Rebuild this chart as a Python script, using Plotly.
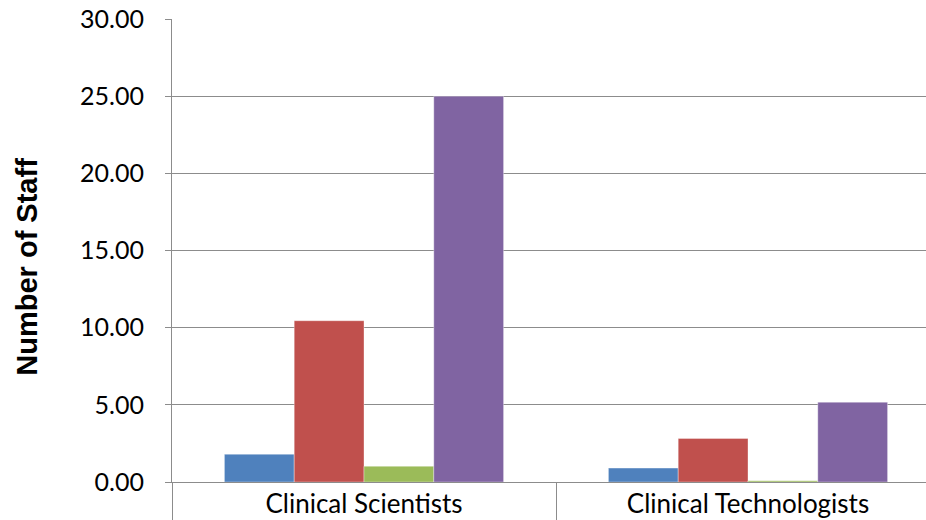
import plotly.graph_objects as go

categories = ["Clinical Scientists", "Clinical Technologists"]
series_names = ["Series 1", "Series 2", "Series 3", "Series 4"]
series_values = [
    [1.8, 0.9],
    [10.45, 2.82],
    [1.02, 0.08],
    [25.0, 5.17],
]
series_colors = ["#4F81BD", "#C0504D", "#9BBB59", "#8064A2"]
y_ticks = [0, 5, 10, 15, 20, 25, 30]
y_title = "Number of Staff"

fig = go.Figure()
for name, vals, color in zip(series_names, series_values, series_colors):
    fig.add_trace(go.Bar(
        x=categories, y=vals, name=name,
        marker=dict(color=color, line=dict(color="rgba(255,255,255,0.35)", width=1)),
    ))

axis_grey = "#8C8C8C"
fig.update_layout(
    width=926, height=520,
    margin=dict(l=172, r=0, t=19, b=38),
    paper_bgcolor="white", plot_bgcolor="white",
    barmode="group", bargap=0.273, bargroupgap=0,
    showlegend=False,
    font=dict(family="Lato", color="#000000"),
    xaxis=dict(
        type="category", automargin=False,
        range=[-0.5, 1.5 - 14 / 384],
        tickson="boundaries", ticks="outside", ticklen=40, tickcolor=axis_grey, tickwidth=1,
        ticklabelstandoff=-1,
        showgrid=False, showline=True, linecolor=axis_grey, linewidth=1,
        tickfont=dict(family="Lato", size=26),
    ),
    yaxis=dict(
        range=[0, 30], tickvals=y_ticks, tickformat=".2f", automargin=False,
        ticks="outside", ticklen=6, tickcolor=axis_grey,
        ticklabelstandoff=16,
        showgrid=True, gridcolor=axis_grey, gridwidth=1,
        showline=True, linecolor=axis_grey, linewidth=1, zeroline=False,
        tickfont=dict(family="Lato", size=25),
    ),
)

# Rotated axis title, placed as an annotation so it can sit slightly below centre
fig.add_annotation(
    text=y_title, textangle=-90, showarrow=False,
    xref="paper", yref="paper", x=0, y=0.465,
    xanchor="center", yanchor="middle", xshift=-145,
    font=dict(family="Liberation Sans", size=29, weight="bold", color="#000000"),
)

fig.write_html("out.html")
